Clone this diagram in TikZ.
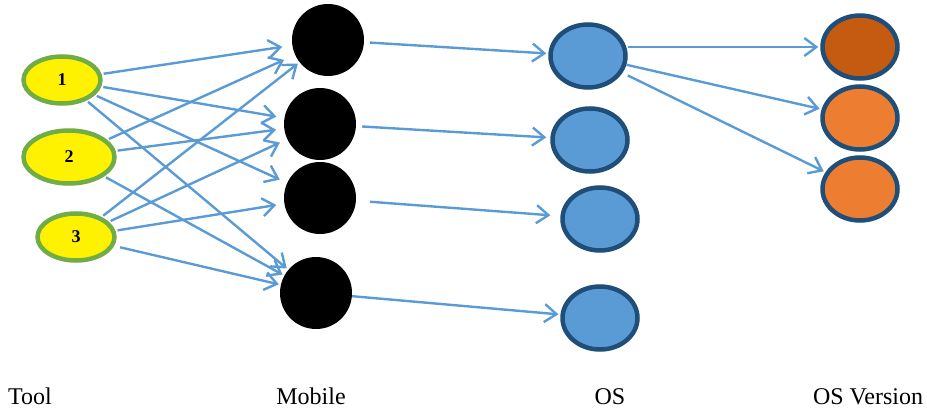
\documentclass[tikz,border=0pt]{standalone}
\usepackage{fontspec}
\setmainfont{Liberation Serif}
\usetikzlibrary{arrows.meta, shapes.geometric}
\definecolor{lineblue}{HTML}{5B9BD5}
\definecolor{darkblue}{HTML}{1F4E79}
\definecolor{leafgreen}{HTML}{70AD47}
\definecolor{lightorange}{HTML}{ED7D31}
\definecolor{darkorange}{HTML}{C55A11}

\begin{document}
\begin{tikzpicture}[x=1pt, y=-1pt,
  tool/.style={ellipse, draw=leafgreen, line width=4.5pt, fill=yellow,
               inner sep=0pt, minimum width=77pt, minimum height=47pt,
               font=\fontsize{18}{18}\selectfont\bfseries},
  mob/.style={circle, fill=black, inner sep=0pt, minimum size=72pt},
  os/.style={ellipse, draw=darkblue, line width=4.5pt, fill=lineblue,
             inner sep=0pt, minimum width=75pt, minimum height=63pt},
  ver/.style={os, fill=lightorange},
  a/.style={-{Straight Barb[length=12pt, width=18pt, line width=2.4pt]},
            line width=2.4pt, draw=lineblue},
  lbl/.style={font=\fontsize{24}{28}\selectfont, inner sep=0pt}]
  \useasboundingbox (0,0) rectangle (927,412);
  % ---- Tool column
  \node[tool] (t1) at (62,80)  {\raisebox{-8pt}{1}};
  \node[tool, minimum width=91pt, minimum height=53pt] (t2) at (69,157) {\raisebox{-8pt}{2}};
  \node[tool] (t3) at (76,237) {\raisebox{-8pt}{3}};
  % ---- Mobile column
  \node[mob] (m1) at (328,40)  {};
  \node[mob] (m2) at (320,124) {};
  \node[mob] (m3) at (320,198) {};
  \node[mob] (m4) at (316,293) {};
  % ---- OS column
  \node[os] (o1) at (588,56)  {};
  \node[os] (o2) at (590,140) {};
  \node[os] (o3) at (600,219) {};
  \node[os] (o4) at (600,318) {};
  % ---- OS Version column
  \node[ver, fill=darkorange] (v1) at (860,47) {};
  \node[ver] (v2) at (860,118) {};
  \node[ver] (v3) at (860,189) {};
  % ---- Tool -> Mobile
  \draw[a, shorten <=2pt, shorten >=10pt] (t1) -- (m1);
  \draw[a, shorten <=2pt, shorten >=8pt] (t1) -- (m2);
  \draw[a, shorten <=2pt, shorten >=8pt] (t1) -- (m3);
  \draw[a, shorten <=2pt, shorten >=2pt] (t1) -- (m4);
  \draw[a, shorten <=2pt, shorten >=12pt] (t2) -- (m1);
  \draw[a, shorten <=2pt, shorten >=8pt] (t2) -- (m2);
  \draw[a, shorten <=2pt, shorten >=2pt] (t2) -- (m4);
  \draw[a, shorten <=2pt, shorten >=2pt] (t3) -- (m1);
  \draw[a, shorten <=2pt, shorten >=8pt] (t3) -- (m2);
  \draw[a, shorten <=2pt, shorten >=8pt] (t3) -- (m3);
  \draw[a, shorten <=6pt, shorten >=2pt] (t3) -- (m4);
  % ---- Mobile -> OS
  \draw[a, shorten <=6pt, shorten >=2pt] (m1) -- (o1);
  \draw[a, shorten <=6pt, shorten >=4pt] (m2) -- (o2);
  \draw[a, shorten <=14pt, shorten >=10pt] (m3) -- (o3);
  \draw[a, shorten <=0pt, shorten >=2pt] (m4) -- (o4);
  % ---- OS -> OS Version
  \draw[a, shorten >=2pt] (o1.east |- v1) -- (v1);
  \draw[a, shorten >=2pt] (o1) -- (v2);
  \draw[a, shorten <=6pt, shorten >=2pt] (o1) -- (v3);
  % ---- Column titles
  \node[lbl, anchor=base west] (ltool) at (8,404) {Tool};
  \node[lbl, anchor=base] (lmob) at (311,404) {Mobile};
  \node[lbl, anchor=base] (los) at (610,404) {OS};
  \node[lbl, anchor=base] (lver) at (868,404) {OS Version};
\end{tikzpicture}
\end{document}
